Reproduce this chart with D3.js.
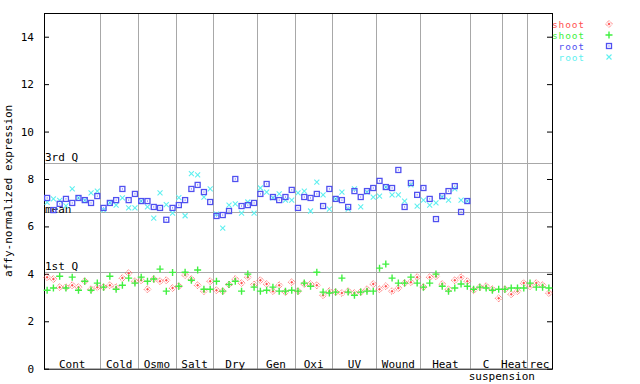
<!DOCTYPE html>
<html><head><meta charset="utf-8">
<script src="https://cdn.jsdelivr.net/npm/d3@7"></script>
<style>body{margin:0;background:#fff}svg{display:block}text{font-family:"DejaVu Sans Mono",monospace;font-size:11px}</style>
</head><body><svg id="c" width="640" height="384"></svg>
<script>
const groupNames = ["Cont","Cold","Osmo","Salt","Dry","Gen","Oxi","UV","Wound","Heat","C","Heat","rec"];
const groupSizes = [9,6,6,6,7,6,6,7,7,8,5,4,4];
const groupSubLabels = ["","","","","","","","","","","suspension","",""];
const yTicks = [0,2,4,6,8,10,12,14];
const refLabels = ["3rd Q","mean","1st Q"];
const refValues = [8.68,6.61,4.07];
const seriesNames = ["shoot","shoot","root","root"];
const shootRed = [3.86,3.78,3.44,3.44,3.52,3.44,3.69,3.35,3.44,
 3.44,3.52,3.44,3.82,4.03,3.69,
 3.73,3.35,3.78,3.69,3.73,3.40,
 3.48,3.95,3.78,3.52,3.27,3.69,
 3.31,3.27,3.55,3.78,3.61,3.86,3.55,
 3.73,3.57,3.27,3.52,3.23,3.65,
 3.27,3.57,3.57,3.52,3.10,3.27,
 3.23,3.19,3.27,3.19,3.23,3.35,3.57,
 3.35,3.48,3.27,3.40,3.61,3.65,3.86,
 3.44,3.86,3.90,3.57,3.35,3.73,3.86,3.69,
 3.31,3.44,3.48,3.35,2.97,
 3.35,3.14,3.27,3.61,
 3.48,3.61,3.52,3.19];
const shootGreen = [3.31,3.40,3.90,3.40,3.86,3.31,3.69,3.31,3.61,
 3.44,3.90,3.35,3.52,3.82,3.61,
 3.86,3.69,3.78,4.20,3.27,4.06,
 3.48,4.07,3.73,4.16,3.35,3.35,
 3.69,3.27,3.55,3.69,3.27,3.99,3.44,
 3.27,3.31,3.44,3.27,3.27,3.31,
 3.27,3.61,3.48,4.07,3.23,3.19,
 3.23,3.82,3.23,3.10,3.23,3.27,3.27,
 4.24,4.41,3.82,3.61,3.61,3.86,3.61,
 3.44,3.61,3.99,3.48,3.27,3.40,3.57,3.48,
 3.35,3.44,3.40,3.31,3.35,
 3.35,3.40,3.40,3.40,
 3.61,3.44,3.44,3.40];
const rootBlue = [7.20,6.69,6.95,7.16,6.99,7.20,7.11,6.99,7.28,
 6.78,6.99,7.11,7.58,7.11,7.37,
 7.07,7.07,6.82,6.78,6.28,6.78,
 6.90,7.11,7.58,7.75,7.45,7.03,
 6.44,6.48,6.65,8.00,6.86,6.90,6.99,
 7.37,7.79,7.24,7.11,7.24,7.54,
 6.78,7.24,7.20,7.37,6.86,7.58,
 7.16,7.11,6.82,7.49,7.24,7.49,7.62,
 7.92,7.66,7.62,8.38,6.82,7.83,7.33,
 7.62,7.16,6.31,7.28,7.49,7.70,6.61,7.07];
const rootCyan = [7.01,7.16,7.10,6.87,7.58,7.20,7.10,7.41,7.49,
 6.70,7.00,6.90,7.20,6.78,6.78,
 7.07,6.82,6.35,7.41,6.92,6.56,
 7.21,6.45,8.23,8.17,7.24,7.58,
 6.52,5.93,6.90,6.95,6.56,7.03,6.56,
 7.62,7.45,7.20,7.37,7.11,7.11,
 7.41,7.49,6.65,7.87,7.33,6.73,
 7.16,7.45,6.73,7.58,6.82,7.45,7.24,
 7.28,7.66,7.33,7.33,7.07,7.75,6.86,
 7.11,6.90,6.99,7.24,7.11,7.58,7.11,7.07];

const colors = ["#ff5050","#40f040","#5050f0","#60f0f0"];
const svg = d3.select("#c");
const L=44,R=552,T=13,B=368.7;
const nSamples = d3.sum(groupSizes);
const x = d3.scaleBand().domain(d3.range(nSamples)).range([L,R]).padding(0);
const y = d3.scaleLinear().domain([0,15]).range([B,T]);
const cx = i => x(i)+x.bandwidth()/2;

// group separators
let starts=[]; let acc=0; groupSizes.forEach(s=>{starts.push(acc);acc+=s;});
svg.append("g").selectAll("line").data(starts.slice(1)).join("line")
 .attr("x1",d=>Math.round(x(d))+0.5).attr("x2",d=>Math.round(x(d))+0.5)
 .attr("y1",T).attr("y2",B).attr("stroke","#a8a8a8").attr("stroke-width",1);
// reference lines
svg.append("g").selectAll("line").data(refValues).join("line")
 .attr("x1",L).attr("x2",R).attr("y1",d=>Math.round(y(d))+0.5).attr("y2",d=>Math.round(y(d))+0.5)
 .attr("stroke","#a8a8a8").attr("stroke-width",1);
svg.append("g").selectAll("text").data(refLabels).join("text")
 .attr("x",L+1).attr("y",(d,i)=>Math.round(y(refValues[i]))+(d==="mean"?1:-2)).text(d=>d).attr("fill","#000");

// axes
const yAxis = d3.axisLeft(y).tickValues(yTicks).tickSize(-5).tickPadding(10).tickFormat(d3.format("d"));
const gy = svg.append("g").attr("transform",`translate(${L},0)`).call(yAxis);
gy.select(".domain").remove();
gy.selectAll("line").attr("stroke","#000");
gy.selectAll("text").attr("font-family","DejaVu Sans Mono").attr("font-size",11);
const yAxisR = d3.axisRight(y).tickValues(yTicks).tickSize(-5).tickFormat("");
const gyr = svg.append("g").attr("transform",`translate(${R},0)`).call(yAxisR);
gyr.select(".domain").remove();
gyr.selectAll("line").attr("stroke","#000");
svg.append("rect").attr("x",L+0.5).attr("y",T+0.5).attr("width",R-L).attr("height",B-T)
 .attr("fill","none").attr("stroke","#000").attr("stroke-width",1);

// group labels
svg.append("g").selectAll("text").data(groupNames).join("text")
 .attr("x",(d,i)=>x(starts[i])+groupSizes[i]*x.bandwidth()/2).attr("y",B-1)
 .attr("text-anchor","middle").text(d=>d);
svg.append("g").selectAll("text").data(groupSubLabels.map((d,i)=>({d,i})).filter(o=>o.d)).join("text")
 .attr("x",o=>x(starts[o.i]+groupSizes[o.i])).attr("y",B+11).attr("text-anchor","middle").text(o=>o.d);

// y title
svg.append("text").attr("transform",`translate(12,${(T+B)/2}) rotate(-90)`).attr("text-anchor","middle")
 .text("affy-normalized expression");

// markers
function marker(g,type,c){
 if(type===0){
  g.append("path").attr("d","M0,-3.5L3.5,0L0,3.5L-3.5,0Z").attr("fill","none").attr("stroke",c).attr("stroke-width",1).attr("stroke-dasharray","1,1");
  g.append("path").attr("d","M0,-1.5L1.5,0L0,1.5L-1.5,0Z").attr("fill",c);
 } else if(type===1){
  g.append("path").attr("d","M-3.5,0H3.5M0,-3.5V3.5").attr("stroke",c).attr("stroke-width",1.4);
 } else if(type===2){
  g.append("rect").attr("x",-2.5).attr("y",-2.5).attr("width",5).attr("height",5).attr("fill","none").attr("stroke",c).attr("stroke-width",1.3);
  g.append("rect").attr("x",-0.5).attr("y",-0.5).attr("width",1).attr("height",1).attr("fill",c);
 } else {
  g.append("path").attr("d","M-2.5,-2.5L2.5,2.5M-2.5,2.5L2.5,-2.5").attr("stroke",c).attr("stroke-width",1.1);
 }
}
const series=[shootRed,shootGreen,rootBlue,rootCyan];
const order=[3,2,0,1];
order.forEach(si=>{
 const g=svg.append("g");
 series[si].forEach((v,i)=>{
  const mg=g.append("g").attr("transform",`translate(${cx(i)},${y(v)})`);
  marker(mg,si,colors[si]);
 });
});

// legend
const lg=svg.append("g");
seriesNames.forEach((n,i)=>{
 lg.append("text").attr("x",585).attr("y",27.5+i*11).attr("text-anchor","end").attr("fill",colors[i])
  .style("font-size","9.5px").style("letter-spacing","0.9px").text(n);
 marker(lg.append("g").attr("transform",`translate(609,${24+i*11})`),i,colors[i]);
});
</script></body></html>
